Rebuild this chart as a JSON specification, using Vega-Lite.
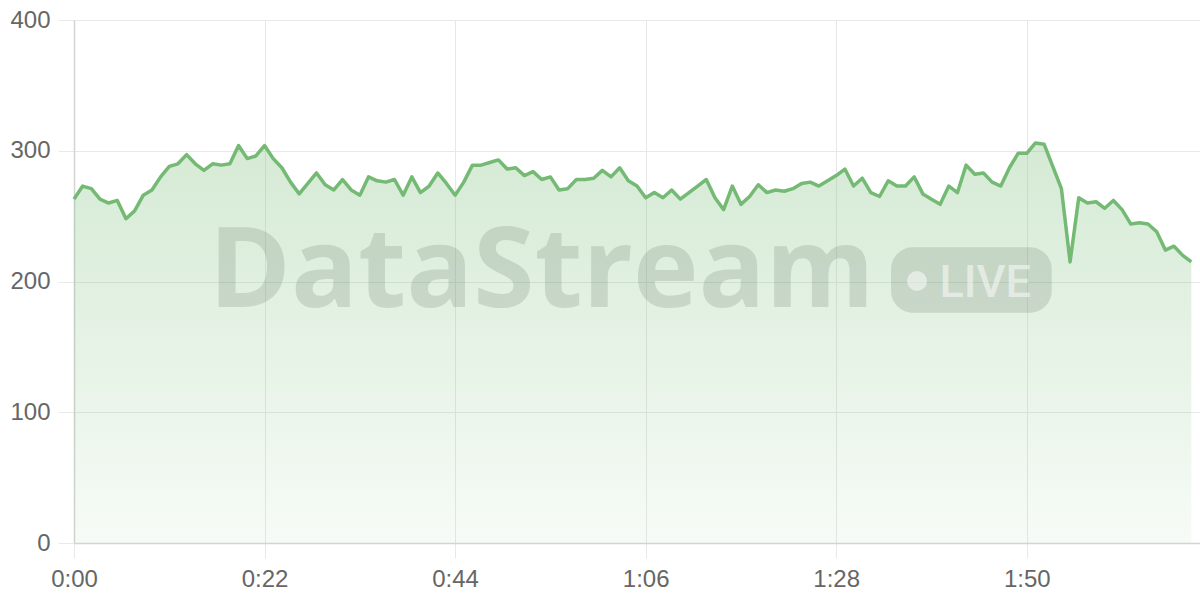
{
  "$schema": "https://vega.github.io/schema/vega-lite/v6.json",
  "width": 1126,
  "height": 523,
  "autosize": {"type": "none"},
  "padding": {"left": 74, "top": 20, "right": 0, "bottom": 57},
  "background": "white",
  "config": {
    "view": {"stroke": null},
    "axis": {
      "labelFont": "Liberation Sans",
      "labelFontSize": 24,
      "labelColor": "#666666",
      "gridColor": "#e8e8e8",
      "tickColor": "#e8e8e8",
      "domainColor": "#d4d4d4",
      "domainWidth": 1.5,
      "labelFlush": false,
      "title": null
    }
  },
  "datasets": {
    "series": [
      {"t": 0, "value": 263}, {"t": 1, "value": 273}, {"t": 2, "value": 271}, {"t": 3, "value": 263},
      {"t": 4, "value": 260}, {"t": 5, "value": 262}, {"t": 6, "value": 248}, {"t": 7, "value": 254},
      {"t": 8, "value": 266}, {"t": 9, "value": 270}, {"t": 10, "value": 280}, {"t": 11, "value": 288},
      {"t": 12, "value": 290}, {"t": 13, "value": 297}, {"t": 14, "value": 290}, {"t": 15, "value": 285},
      {"t": 16, "value": 290}, {"t": 17, "value": 289}, {"t": 18, "value": 290}, {"t": 19, "value": 304},
      {"t": 20, "value": 294}, {"t": 21, "value": 296}, {"t": 22, "value": 304}, {"t": 23, "value": 294},
      {"t": 24, "value": 287}, {"t": 25, "value": 276}, {"t": 26, "value": 267}, {"t": 27, "value": 275},
      {"t": 28, "value": 283}, {"t": 29, "value": 274}, {"t": 30, "value": 270}, {"t": 31, "value": 278},
      {"t": 32, "value": 270}, {"t": 33, "value": 266}, {"t": 34, "value": 280}, {"t": 35, "value": 277},
      {"t": 36, "value": 276}, {"t": 37, "value": 278}, {"t": 38, "value": 266}, {"t": 39, "value": 280},
      {"t": 40, "value": 268}, {"t": 41, "value": 273}, {"t": 42, "value": 283}, {"t": 43, "value": 275},
      {"t": 44, "value": 266}, {"t": 45, "value": 276}, {"t": 46, "value": 289}, {"t": 47, "value": 289},
      {"t": 48, "value": 291}, {"t": 49, "value": 293}, {"t": 50, "value": 286}, {"t": 51, "value": 287},
      {"t": 52, "value": 281}, {"t": 53, "value": 284}, {"t": 54, "value": 278}, {"t": 55, "value": 280},
      {"t": 56, "value": 270}, {"t": 57, "value": 271}, {"t": 58, "value": 278}, {"t": 59, "value": 278},
      {"t": 60, "value": 279}, {"t": 61, "value": 285}, {"t": 62, "value": 280}, {"t": 63, "value": 287},
      {"t": 64, "value": 277}, {"t": 65, "value": 273}, {"t": 66, "value": 264}, {"t": 67, "value": 268},
      {"t": 68, "value": 264}, {"t": 69, "value": 270}, {"t": 70, "value": 263}, {"t": 71, "value": 268},
      {"t": 72, "value": 273}, {"t": 73, "value": 278}, {"t": 74, "value": 264}, {"t": 75, "value": 255},
      {"t": 76, "value": 273}, {"t": 77, "value": 259}, {"t": 78, "value": 265}, {"t": 79, "value": 274},
      {"t": 80, "value": 268}, {"t": 81, "value": 270}, {"t": 82, "value": 269}, {"t": 83, "value": 271},
      {"t": 84, "value": 275}, {"t": 85, "value": 276}, {"t": 86, "value": 273}, {"t": 87, "value": 277},
      {"t": 88, "value": 281}, {"t": 89, "value": 286}, {"t": 90, "value": 273}, {"t": 91, "value": 279},
      {"t": 92, "value": 268}, {"t": 93, "value": 265}, {"t": 94, "value": 277}, {"t": 95, "value": 273},
      {"t": 96, "value": 273}, {"t": 97, "value": 280}, {"t": 98, "value": 267}, {"t": 99, "value": 263},
      {"t": 100, "value": 259}, {"t": 101, "value": 273}, {"t": 102, "value": 268}, {"t": 103, "value": 289},
      {"t": 104, "value": 282}, {"t": 105, "value": 283}, {"t": 106, "value": 276}, {"t": 107, "value": 273},
      {"t": 108, "value": 287}, {"t": 109, "value": 298}, {"t": 110, "value": 298}, {"t": 111, "value": 306},
      {"t": 112, "value": 305}, {"t": 113, "value": 288}, {"t": 114, "value": 271}, {"t": 115, "value": 215},
      {"t": 116, "value": 264}, {"t": 117, "value": 260}, {"t": 118, "value": 261}, {"t": 119, "value": 256},
      {"t": 120, "value": 262}, {"t": 121, "value": 255}, {"t": 122, "value": 244}, {"t": 123, "value": 245},
      {"t": 124, "value": 244}, {"t": 125, "value": 238}, {"t": 126, "value": 224}, {"t": 127, "value": 227},
      {"t": 128, "value": 220}, {"t": 129, "value": 215}
    ],
    "watermark": [
      {"word": "DataStream", "badge": "LIVE"}
    ]
  },
  "layer": [
    {
      "data": {"name": "series"},
      "mark": {
        "type": "area",
        "color": {
          "gradient": "linear",
          "x1": 0, "y1": 0, "x2": 0, "y2": 1,
          "stops": [
            {"offset": 0, "color": "rgba(115,185,115,0.30)"},
            {"offset": 1, "color": "rgba(115,185,115,0.06)"}
          ]
        }
      },
      "encoding": {
        "x": {
          "field": "t",
          "type": "quantitative",
          "scale": {"domain": [0, 130], "nice": false},
          "axis": {
            "values": [0, 22, 44, 66, 88, 110],
            "labelExpr": "floor(datum.value / 60) + ':' + (datum.value % 60 < 10 ? '0' : '') + (datum.value % 60)",
            "tickSize": 15,
            "labelPadding": 9,
            "grid": true
          }
        },
        "y": {
          "field": "value",
          "type": "quantitative",
          "scale": {"domain": [0, 400], "nice": false},
          "axis": {
            "values": [0, 100, 200, 300, 400],
            "tickSize": 16,
            "labelPadding": 8,
            "grid": true
          }
        }
      }
    },
    {
      "data": {"name": "watermark"},
      "mark": {
        "type": "text",
        "font": "Open Sans",
        "fontWeight": 700,
        "fontSize": 111,
        "align": "center",
        "baseline": "alphabetic",
        "color": "#556655",
        "opacity": 0.18
      },
      "encoding": {
        "x": {"datum": 54},
        "y": {"datum": 180.7},
        "text": {"field": "word"}
      }
    },
    {
      "data": {"name": "watermark"},
      "mark": {"type": "rect", "cornerRadius": 22, "color": "#556655", "opacity": 0.18},
      "encoding": {
        "x": {"datum": 94.33},
        "x2": {"datum": 112.88},
        "y": {"datum": 226.2},
        "y2": {"datum": 176.1}
      }
    },
    {
      "data": {"name": "watermark"},
      "mark": {"type": "point", "shape": "circle", "filled": true, "size": 400, "color": "white", "opacity": 0.5, "strokeWidth": 0},
      "encoding": {
        "x": {"datum": 97.33},
        "y": {"datum": 200.4}
      }
    },
    {
      "data": {"name": "watermark"},
      "mark": {
        "type": "text",
        "font": "Roboto",
        "fontWeight": 500,
        "fontSize": 45,
        "align": "center",
        "baseline": "alphabetic",
        "color": "white",
        "opacity": 0.5
      },
      "encoding": {
        "x": {"datum": 105.2},
        "y": {"datum": 188.4},
        "text": {"field": "badge"}
      }
    },
    {
      "data": {"name": "series"},
      "mark": {"type": "line", "color": "#74ba74", "strokeWidth": 3.5, "strokeJoin": "round"},
      "encoding": {
        "x": {"field": "t", "type": "quantitative"},
        "y": {"field": "value", "type": "quantitative"}
      }
    }
  ]
}
